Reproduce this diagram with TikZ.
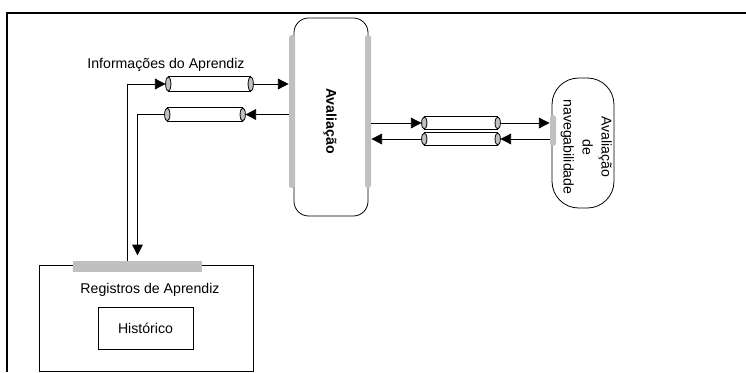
\documentclass[tikz,border=0pt]{standalone}
\usepackage{fontspec}
\setmainfont{Liberation Sans}
\usetikzlibrary{arrows.meta}
\usetikzlibrary{positioning}
\definecolor{barra}{RGB}{192,192,192}
\tikzset{>={Triangle[length=8pt,width=8pt]}}
\tikzset{
  faixa/.style={fill=barra,rounded corners=2pt,inner sep=0pt,minimum width=4.5pt},
  tubo/.style={inner sep=0pt},
  caixa/.style={draw,inner sep=0pt}
}

\begin{document}
\begin{tikzpicture}[x=0.75pt,y=-0.75pt,line width=0.6pt]
\fontsize{10.6}{12.7}\selectfont
\useasboundingbox (0,0) rectangle (746,372);
\draw[line width=1.5pt] (746,13) -- (7,13) -- (7,372);

% avaliacao
\node[caixa,rounded corners=11pt,minimum width=55.5pt,minimum height=148.5pt] (aval) at (331,117) {};
\node (avalTxt) at (330,121) {\rotatebox{-90}{\bfseries Avaliação}};
\node[faixa,minimum height=114.75pt] (avalE) at (292,111.5) {};
\node[faixa,minimum height=114.75pt] (avalD) at (368,111.5) {};

% navegabilidade
\node[caixa,rounded corners=20pt,minimum width=46.5pt,minimum height=97.5pt] (nav) at (583,143) {};
\node (navTxt) at (586,147) {\rotatebox{-90}{\begin{tabular}{@{}c@{}}Avaliação\\[1.6pt]de\\[1.6pt]navegabilidade\end{tabular}}};
\node[faixa,minimum height=23pt] (navE) at (553,130.5) {};

% registros
\node[caixa,minimum width=160.5pt,minimum height=79.5pt] (reg) at (146,318) {};
\node (regTxt) at (150,290) {Registros de Aprendiz};
\node[caixa,minimum width=71.25pt,minimum height=31.5pt] (hist) at (145.5,328) {Histórico};
\node[fill=barra,inner sep=0pt,minimum width=96.75pt,minimum height=8.25pt] (regF) at (137.5,266.5) {};

% tubos
\node[tubo,minimum width=65.25pt,minimum height=10.5pt] (t1) at (209.5,84) {};
\node[tubo,minimum width=60pt,minimum height=9.75pt] (t2) at (205,114.5) {};
\node[tubo,minimum width=58.5pt,minimum height=9pt] (t3) at (461,123) {};
\node[tubo,minimum width=58.5pt,minimum height=9pt] (t4) at (461,139) {};
\foreach \t/\r in {t1/5.25pt,t2/4.875pt,t3/4.5pt,t4/4.5pt}{
  \draw ([xshift=2pt]\t.north west) -- ([xshift=-2pt]\t.north east)
        ([xshift=2pt]\t.south west) -- ([xshift=-2pt]\t.south east);
  \draw[fill=barra] ([xshift=2pt]\t.west) ellipse (2pt and \r);
  \draw[fill=barra] ([xshift=-2pt]\t.east) ellipse (2pt and \r);
}

\node (info) at (166,65) {Informações do Aprendiz};

\draw[->] ([xshift=-7.9pt]regF.north) |- (t1.west);
\draw[->] (t1.east) -- (t1.east -| avalE.west);
\draw[->] (avalE.west |- t2.east) -- (t2.east);
\draw[->,shorten >=4pt] (t2.west) -| (regF.north);

\draw[->] (avalD.east |- t3.west) -- (t3.west);
\draw[->] (t3.east) -- (t3.east -| navE.west);
\draw[->] (navE.west |- t4.east) -- (t4.east);
\draw[->] (t4.west) -- (t4.west -| avalD.east);

\end{tikzpicture}
\end{document}
